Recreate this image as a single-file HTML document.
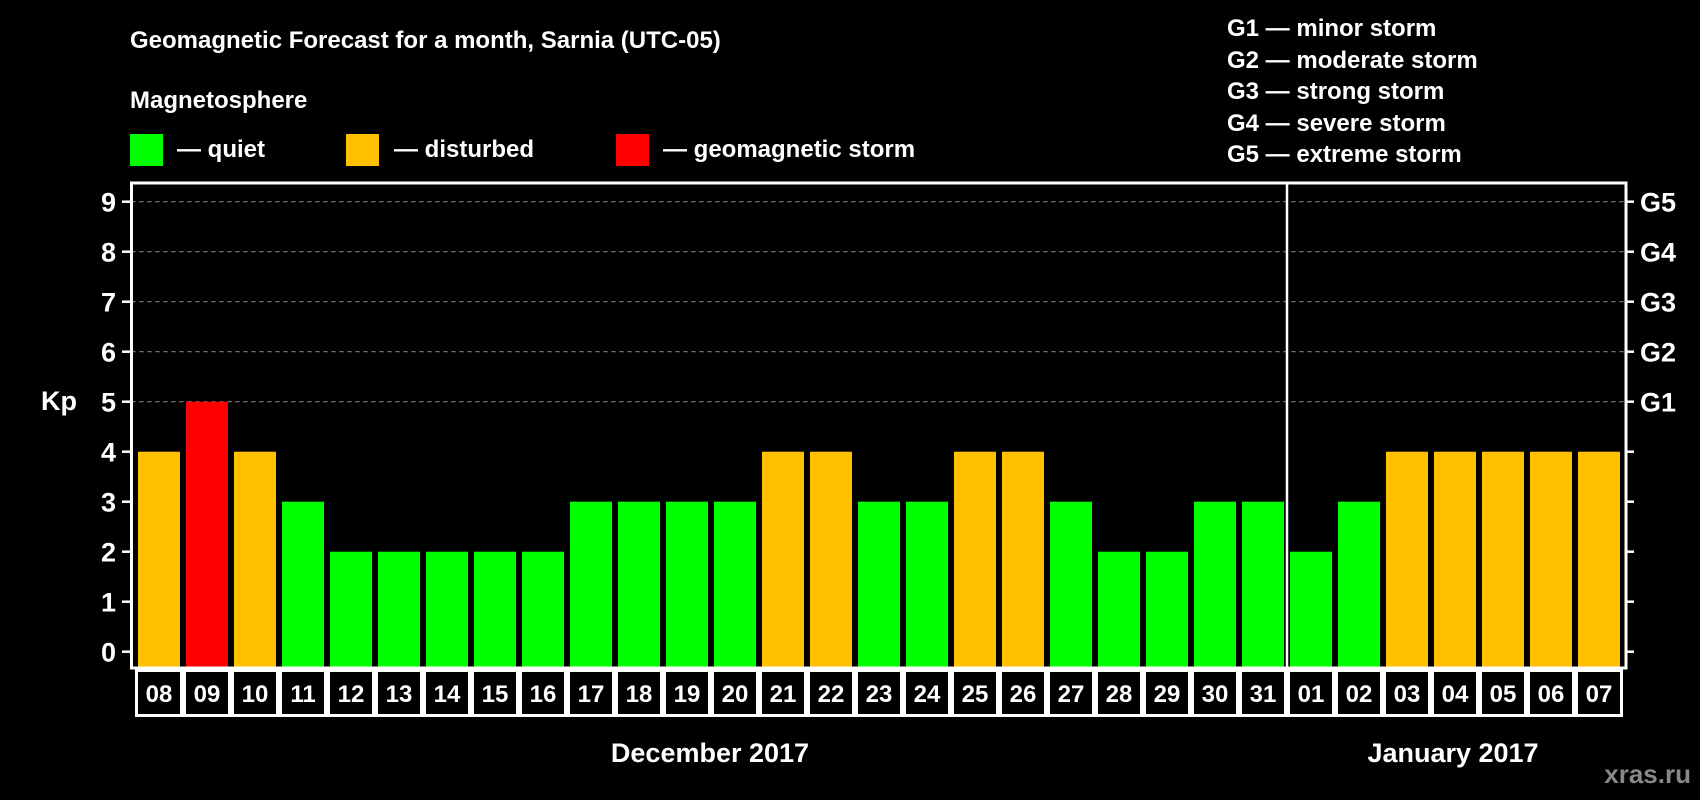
<!DOCTYPE html>
<html><head><meta charset="utf-8"><style>
html,body{margin:0;padding:0;background:#000;width:1700px;height:800px;overflow:hidden}
svg{display:block;font-family:"Liberation Sans",sans-serif;font-weight:bold}
</style></head><body>
<svg id="chart" width="1700" height="800" viewBox="0 0 1700 800" xmlns="http://www.w3.org/2000/svg">
<rect width="1700" height="800" fill="#000"/>
<text x="130" y="48" fill="#fff" font-size="24">Geomagnetic Forecast for a month, Sarnia (UTC-05)</text>
<text x="130" y="108" fill="#fff" font-size="24">Magnetosphere</text>
<rect x="130" y="134" width="33" height="32" fill="#00ff00"/>
<text x="177" y="157" fill="#fff" font-size="24">— quiet</text>
<rect x="346" y="134" width="33" height="32" fill="#ffc000"/>
<text x="394" y="157" fill="#fff" font-size="24">— disturbed</text>
<rect x="616" y="134" width="33" height="32" fill="#ff0000"/>
<text x="663" y="157" fill="#fff" font-size="24">— geomagnetic storm</text>
<g fill="#fff" font-size="24">
<text x="1227" y="36">G1 — minor storm</text>
<text x="1227" y="68">G2 — moderate storm</text>
<text x="1227" y="99">G3 — strong storm</text>
<text x="1227" y="131">G4 — severe storm</text>
<text x="1227" y="162">G5 — extreme storm</text>
</g>
<text x="41" y="410" fill="#fff" font-size="27">Kp</text>
<g id="plot"></g>
<text x="710" y="762" fill="#fff" font-size="27" text-anchor="middle">December 2017</text>
<text x="1453" y="762" fill="#fff" font-size="27" text-anchor="middle">January 2017</text>
<text x="1691" y="783" fill="#888" font-size="26" text-anchor="end">xras.ru</text>
</svg>
<script>
const days = ["08","09","10","11","12","13","14","15","16","17","18","19","20","21","22","23","24","25","26","27","28","29","30","31","01","02","03","04","05","06","07"];
const kp = [4,5,4,3,2,2,2,2,2,3,3,3,3,4,4,3,3,4,4,3,2,2,3,3,2,3,4,4,4,4,4];
const yTicks = [0,1,2,3,4,5,6,7,8,9];
const gLabels = ["G1","G2","G3","G4","G5"];
const gLevels = [5,6,7,8,9];
const monthSplit = 24;

const NS="http://www.w3.org/2000/svg";
const g=document.getElementById('plot');
const L=131.5,R=1626,T=183,B=668,slot=48,x0=135;
const y=v=>651.7-v*50;
const x=i=>x0+i*slot;
function mk(t,a){const e=document.createElementNS(NS,t);for(const k in a)e.setAttribute(k,a[k]);g.appendChild(e);return e;}
// gridlines
gLevels.forEach(v=>{const e=mk('line',{x1:L,x2:R,y1:y(v),y2:y(v),stroke:'#888','stroke-width':1.2,'stroke-dasharray':'4,4'});

});
// bars
kp.forEach((v,i)=>{const e=mk('rect',{x:x(i)+3,y:y(v),width:42,height:B-y(v),fill:v>=5?'#ff0000':(v>=4?'#ffc000':'#00ff00')});

});
// frame
const f=mk('rect',{x:L,y:T,width:R-L,height:B-T,fill:'none',stroke:'#fff','stroke-width':3});


const sp=mk('line',{x1:x(monthSplit),x2:x(monthSplit),y1:T,y2:B,stroke:'#fff','stroke-width':2.5});


// y ticks
yTicks.forEach(v=>{
 const t=mk('line',{x1:122,x2:L,y1:y(v),y2:y(v),stroke:'#fff','stroke-width':2.5});
 
 
 const t2=mk('line',{x1:R,x2:1634,y1:y(v),y2:y(v),stroke:'#fff','stroke-width':2.5});
 
 
 const l=mk('text',{x:116,y:y(v)+10,fill:'#fff','font-size':27,'text-anchor':'end'});
 l.textContent=v;
 
 
});
gLabels.forEach((s,i)=>{const l=mk('text',{x:1640,y:y(gLevels[i])+10,fill:'#fff','font-size':27});
 l.textContent=s;
 
 });
// date boxes
days.forEach((d,i)=>{
 const r=mk('rect',{x:x(i)+1.5,y:670.5,width:slot-3,height:45,fill:'none',stroke:'#fff','stroke-width':3});
 
 
 const l=mk('text',{x:x(i)+slot/2,y:702,fill:'#fff','font-size':24,'text-anchor':'middle'});
 l.textContent=d;
 
 
});
</script>
</body></html>
